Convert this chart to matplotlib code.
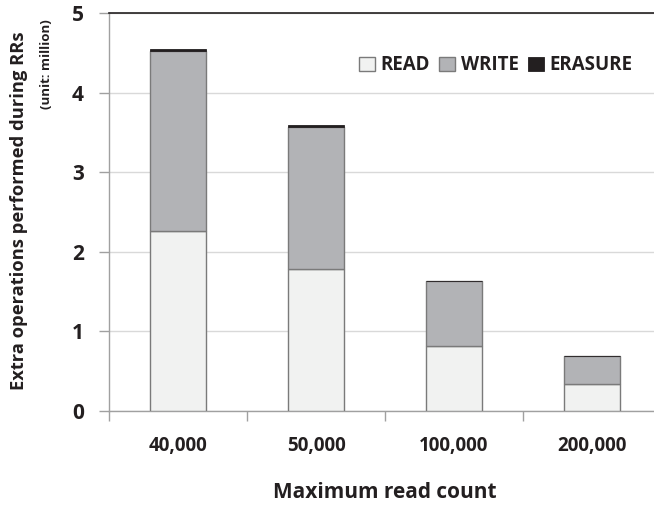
import matplotlib
matplotlib.use("Agg")
import matplotlib.pyplot as plt
import numpy as np

plt.rcParams['font.family'] = ['Open Sans', 'DejaVu Sans']
plt.rcParams['font.weight'] = 'bold'

categories = ["40,000", "50,000", "100,000", "200,000"]
read_ops = [2.26, 1.78, 0.82, 0.34]
write_ops = [2.26, 1.79, 0.81, 0.35]
erase_ops = [0.025, 0.018, 0.008, 0.004]
y_ticks = [0, 1, 2, 3, 4, 5]

fig = plt.figure(figsize=(6.54, 5.09), dpi=100)
W, H = 654, 509
left, right, top, bottom = 109, 661, 13, 411
ax = fig.add_axes([left / W, 1 - bottom / H, (right - left) / W, (bottom - top) / H])

x = np.arange(len(categories))
edge = "#7a7a7a"
ax.bar(x, read_ops, width=0.4, color="#f1f2f1", edgecolor=edge, linewidth=1.0,
       label="READ", zorder=3)
ax.bar(x, write_ops, width=0.4, bottom=read_ops, color="#b2b3b6", edgecolor=edge,
       linewidth=1.0, label="WRITE", zorder=3)
bottoms2 = np.array(read_ops) + np.array(write_ops)
ax.bar(x, erase_ops, width=0.4, bottom=bottoms2, color="#231f20", edgecolor="#231f20",
       linewidth=0.6, label="ERASURE", zorder=3)

ax.set_xlim(-0.5, len(categories) - 0.5)
ax.set_ylim(0, 5)
ax.set_yticks(y_ticks)
ax.set_yticklabels([str(t) for t in y_ticks], fontsize=15, fontweight='bold', color="#231f20")
ax.yaxis.grid(True, color="#d9d9d9", linewidth=1.0, zorder=0)
ax.set_axisbelow(True)

# category ticks sit between groups, labels at the centers
ax.set_xticks(np.arange(len(categories) + 1) - 0.5)
ax.set_xticklabels([])
ax.set_xticks(x, minor=True)
ax.set_xticklabels(categories, minor=True, fontsize=13.5, fontweight='bold', color="#231f20")
ax.tick_params(axis='x', which='minor', length=0, pad=18)
ax.tick_params(axis='x', which='major', length=7, color="#a0a0a0", width=1.0)
ax.tick_params(axis='y', length=7, color="#a0a0a0", width=1.0, pad=11)

for s in ["left", "bottom"]:
    ax.spines[s].set_color("#a0a0a0")
    ax.spines[s].set_linewidth(1.0)
ax.spines["right"].set_visible(False)
ax.spines["top"].set_color("#231f20")
ax.spines["top"].set_linewidth(1.2)

ax.set_xlabel("Maximum read count", fontsize=15, fontweight='bold', color="#231f20", labelpad=19)
fig.text(19 / W, 1 - 211 / H, "Extra operations performed during RRs", rotation=90,
         ha='center', va='center', fontsize=13.2, fontweight='bold', color="#231f20")
fig.text(46 / W, 1 - 64 / H, "(unit: million)", rotation=90, ha='center', va='center',
         fontsize=9.5, fontweight='bold', color="#231f20")

leg = ax.legend(loc='upper right', bbox_to_anchor=((640 - left) / (right - left), 1 - (48 - top) / (bottom - top)),
                ncol=3, frameon=False, fontsize=13.5, handlelength=0.85, handleheight=0.85,
                handletextpad=0.3, columnspacing=0.5, borderaxespad=0)
for t in leg.get_texts():
    t.set_fontweight('bold')
    t.set_color("#231f20")

fig.savefig("out.png", dpi=100)
